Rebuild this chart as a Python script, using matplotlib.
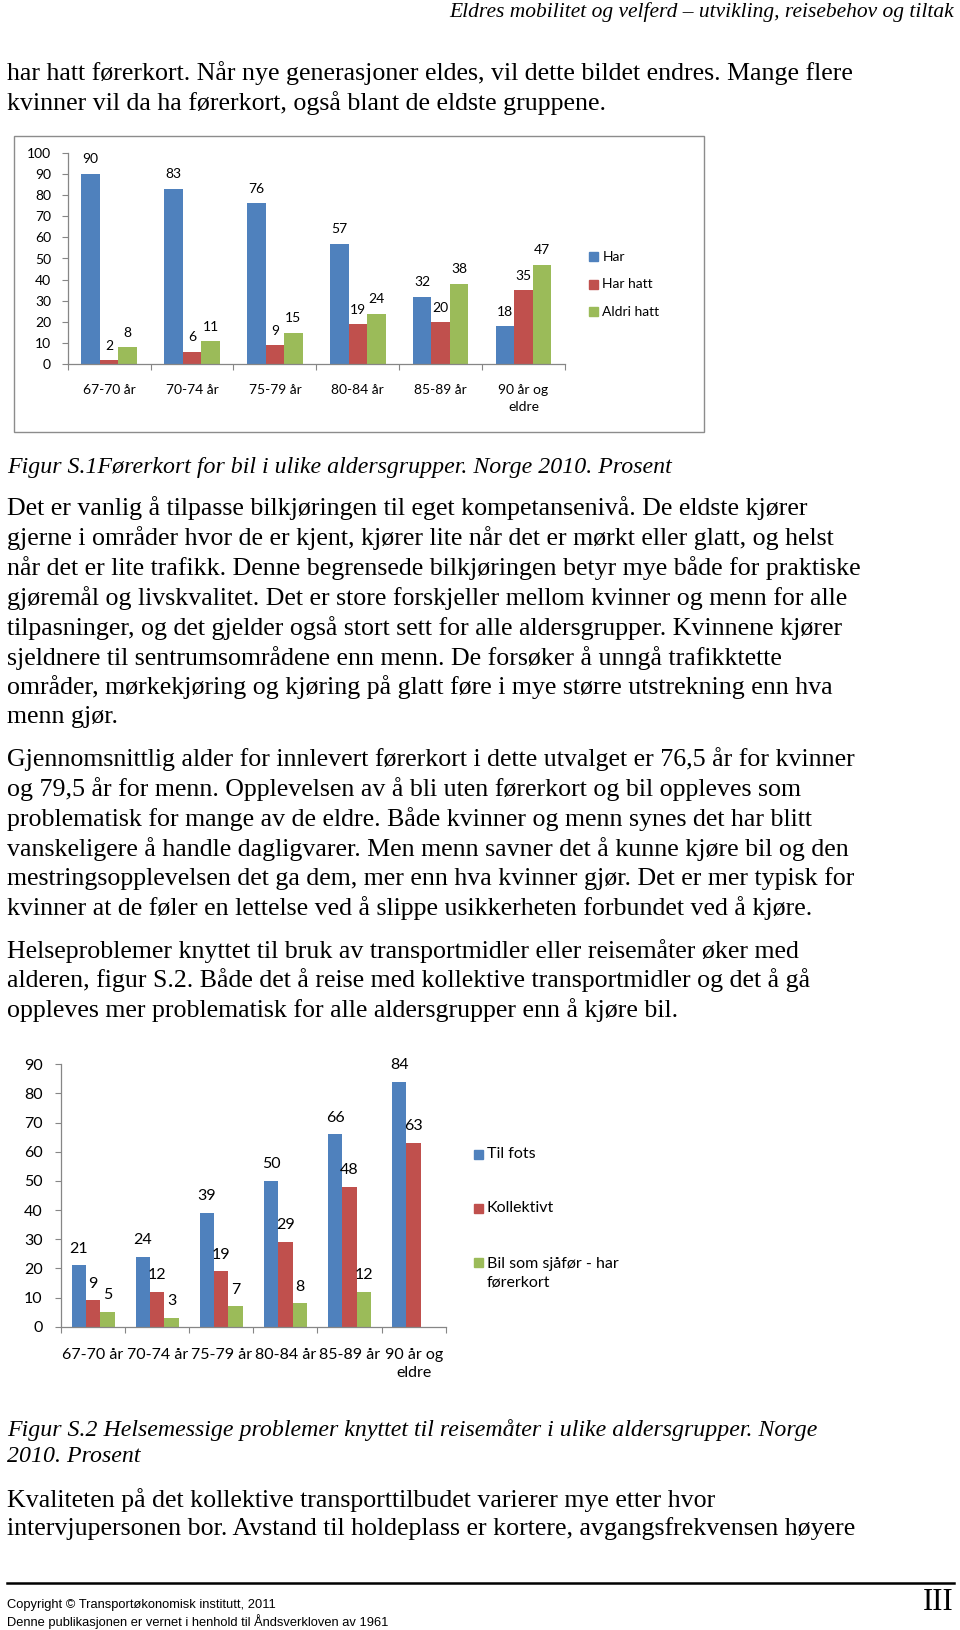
import matplotlib
matplotlib.use("Agg")
import matplotlib.pyplot as plt
import numpy as np
from matplotlib.patches import Rectangle
from matplotlib.lines import Line2D

# data
grupper = ["67-70 år", "70-74 år", "75-79 år", "80-84 år", "85-89 år", "90 år og\neldre"]

s1_navn = ["Har", "Har hatt", "Aldri hatt"]
har = [90, 83, 76, 57, 32, 18]
har_hatt = [2, 6, 9, 19, 20, 35]
aldri_hatt = [8, 11, 15, 24, 38, 47]

s2_navn = ["Til fots", "Kollektivt", "Bil som sjåfør - har\nførerkort"]
til_fots = [21, 24, 39, 50, 66, 84]
kollektivt = [9, 12, 19, 29, 48, 63]
bil_sjafor = [5, 3, 7, 8, 12, np.nan]

farger = ["#4F81BD", "#C0504D", "#9BBB59"]
gra = "#868686"

W, H = 960, 1630
fig = plt.figure(figsize=(W / 100, H / 100), dpi=100)

def fx(x):
    return x / W

def fy(y):
    return 1 - y / H

serif = "Liberation Serif"
sans = "Lato"

def tekst(x, y, s, **kw):
    kw.setdefault("family", serif)
    kw.setdefault("size", 18.65)
    kw.setdefault("va", "center")
    fig.text(fx(x), fy(y), s, **kw)

# header og brodtekst
tekst(954, 12.5, "Eldres mobilitet og velferd – utvikling, reisebehov og tiltak",
      ha="right", style="italic", size=15.5)

linjer = [
    (73, "har hatt førerkort. Når nye generasjoner eldes, vil dette bildet endres. Mange flere"),
    (103, "kvinner vil da ha førerkort, også blant de eldste gruppene."),
    (508.3, "Det er vanlig å tilpasse bilkjøringen til eget kompetansenivå. De eldste kjører"),
    (538.5, "gjerne i områder hvor de er kjent, kjører lite når det er mørkt eller glatt, og helst"),
    (568.3, "når det er lite trafikk. Denne begrensede bilkjøringen betyr mye både for praktiske"),
    (598.3, "gjøremål og livskvalitet. Det er store forskjeller mellom kvinner og menn for alle"),
    (628.3, "tilpasninger, og det gjelder også stort sett for alle aldersgrupper. Kvinnene kjører"),
    (658.0, "sjeldnere til sentrumsområdene enn menn. De forsøker å unngå trafikktette"),
    (687.3, "områder, mørkekjøring og kjøring på glatt føre i mye større utstrekning enn hva"),
    (716.7, "menn gjør."),
    (759.2, "Gjennomsnittlig alder for innlevert førerkort i dette utvalget er 76,5 år for kvinner"),
    (789.4, "og 79,5 år for menn. Opplevelsen av å bli uten førerkort og bil oppleves som"),
    (819.5, "problematisk for mange av de eldre. Både kvinner og menn synes det har blitt"),
    (848.6, "vanskeligere å handle dagligvarer. Men menn savner det å kunne kjøre bil og den"),
    (878.8, "mestringsopplevelsen det ga dem, mer enn hva kvinner gjør. Det er mer typisk for"),
    (908.0, "kvinner at de føler en lettelse ved å slippe usikkerheten forbundet ved å kjøre."),
    (950.6, "Helseproblemer knyttet til bruk av transportmidler eller reisemåter øker med"),
    (979.7, "alderen, figur S.2. Både det å reise med kollektive transportmidler og det å gå"),
    (1009.8, "oppleves mer problematisk for alle aldersgrupper enn å kjøre bil."),
    (1499.7, "Kvaliteten på det kollektive transporttilbudet varierer mye etter hvor"),
    (1528.8, "intervjupersonen bor. Avstand til holdeplass er kortere, avgangsfrekvensen høyere"),
]
for y, s in linjer:
    tekst(7, y, s)

tekst(7, 467.3, "Figur S.1Førerkort for bil i ulike aldersgrupper. Norge 2010. Prosent",
      style="italic", size=17.2)
tekst(7, 1430, "Figur S.2 Helsemessige problemer knyttet til reisemåter i ulike aldersgrupper. Norge",
      style="italic", size=17.2)
tekst(7, 1457, "2010. Prosent", style="italic", size=17.2)

# bunntekst
fig.add_artist(Line2D([fx(7), fx(954)], [fy(1582.5), fy(1582.5)], color="black", lw=1.8))
tekst(7, 1605, "Copyright © Transportøkonomisk institutt, 2011", family="Liberation Sans", size=9.3)
tekst(7, 1622, "Denne publikasjonen er vernet i henhold til Åndsverkloven av 1961",
      family="Liberation Sans", size=9.3)
tekst(954, 1603, "III", ha="right", size=22)


def stolpediagram(venstre, hoyre, y0, ytopp, ymax, serier, navn, fs, lab_off, legend_x, legend_y,
                  linjeavstand, xpad):
    ax = fig.add_axes([fx(venstre), fy(y0), fx(hoyre - venstre), (y0 - ytopp) / H])
    x = np.arange(len(grupper))
    b = 0.223
    for i, (verdier, farge) in enumerate(zip(serier, farger)):
        pos = x + (i - 1) * b
        ax.bar(pos, verdier, width=b, color=farge, edgecolor="none")
        for px, v in zip(pos, verdier):
            if np.isnan(v):
                continue
            ax.annotate(f"{v:.0f}", (px, v), xytext=(0, lab_off), textcoords="offset points",
                        ha="center", va="center", family=sans, size=fs)
    ax.set_xlim(-0.5, len(grupper) - 0.5)
    ax.set_ylim(0, ymax)
    ax.set_yticks(np.arange(0, ymax + 1, 10))
    ax.set_xticks(np.arange(-0.5, len(grupper)), labels=[])
    ax.set_xticks(x, labels=grupper, minor=True)
    ax.tick_params(axis="x", which="major", length=4.5, width=0.8, color=gra, direction="out")
    ax.tick_params(axis="x", which="minor", length=0, pad=xpad)
    ax.tick_params(axis="y", length=4, width=0.8, color=gra, direction="out", pad=fs * 0.8)
    for lab in ax.get_xticklabels(minor=True):
        lab.set_family(sans)
        lab.set_size(fs)
        lab.set_linespacing(linjeavstand)
    for lab in ax.get_yticklabels():
        lab.set_family(sans)
        lab.set_size(fs)
    for sp in ("top", "right"):
        ax.spines[sp].set_visible(False)
    for sp in ("left", "bottom"):
        ax.spines[sp].set_color(gra)
        ax.spines[sp].set_linewidth(0.9)
    ax.patch.set_alpha(0)
    # forklaring
    for n, farge, ly in zip(navn, farger, legend_y):
        fig.patches.append(Rectangle((fx(legend_x), fy(ly + 4.5)), fx(9), 9 / H,
                                     color=farge, transform=fig.transFigure))
        if "\n" in n:
            fig.text(fx(legend_x + 13), fy(ly + 11), n, family=sans, size=fs, va="center",
                     linespacing=1.49)
        else:
            fig.text(fx(legend_x + 13), fy(ly), n, family=sans, size=fs, va="center")
    return ax


# figur S.1 med ramme
fig.patches.append(Rectangle((fx(14), fy(431.6)), fx(704 - 14), (431.6 - 136) / H,
                             fill=False, edgecolor="#8C8C8C", lw=1.0, transform=fig.transFigure))
stolpediagram(67.7, 565, 364.3, 152.7, 100, [har, har_hatt, aldri_hatt], s1_navn,
              10, 10.4, 589.3, [256.7, 284.3, 311.7], 1.45, 14.5)

# figur S.2
stolpediagram(61, 445.7, 1326.7, 1064.3, 90, [til_fots, kollektivt, bil_sjafor], s2_navn,
              11.5, 12, 474, [1154.3, 1208.3, 1262.3], 1.45, 15)

fig.savefig("out.png", dpi=100)
